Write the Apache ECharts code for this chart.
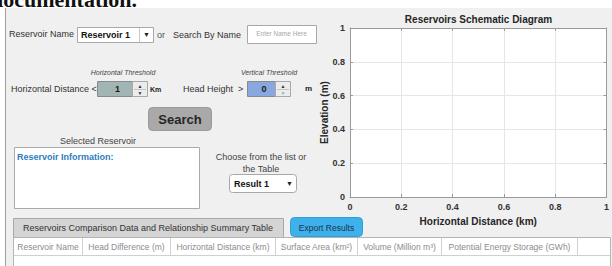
<!DOCTYPE html>
<html>
<head>
<meta charset="utf-8">
<script src="https://cdn.jsdelivr.net/npm/echarts@6/dist/echarts.min.js"></script>
<style>
  html, body { margin: 0; padding: 0; background: #fff; }
  #main { width: 612px; height: 266px; }
</style>
</head>
<body>
<div id="main"></div>
<script>
// axis ranges / ticks of the schematic diagram (empty plot)
const xTicks = [0, 0.2, 0.4, 0.6, 0.8, 1]
const yTicks = [0, 0.2, 0.4, 0.6, 0.8, 1]
const schematicPoints = []

// control values shown in the app
const reservoirNames = ['Reservoir 1']
const resultChoices = ['Result 1']
const horizontalThreshold = [1]
const verticalThreshold = [0]
const tableColumns = [
  'Reservoir Name',
  'Head Difference (m)',
  'Horizontal Distance (km)',
  'Surface Area (km²)',
  'Volume (Million m³)',
  'Potential Energy Storage (GWh)'
]

const FONT = '"Liberation Sans", Arial, sans-serif'
const columnEdges = [13, 82, 170, 275, 357, 441, 577, 610]

function txt(x, y, text, opt = {}) {
  return {
    type: 'text',
    x, y,
    z: 20,
    style: {
      text,
      fill: opt.color || '#333',
      fontSize: opt.size || 9,
      fontWeight: opt.weight || 'normal',
      fontStyle: opt.style || 'normal',
      fontFamily: opt.family || FONT,
      align: opt.align || 'left',
      verticalAlign: 'middle'
    }
  }
}

function box(x, y, w, h, fill, stroke, r) {
  return {
    type: 'rect',
    z: 10,
    shape: { x, y, width: w, height: h, r: r || 0 },
    style: { fill, stroke: stroke || null, lineWidth: stroke ? 1 : 0 }
  }
}

function line(x1, y1, x2, y2, color) {
  return {
    type: 'line',
    z: 15,
    shape: { x1, y1, x2, y2 },
    style: { stroke: color, lineWidth: 1 }
  }
}

function spinner(x, w, value, fill, downColor) {
  const y = 81, h = 15
  return [
    box(x + 0.5, y + 0.5, w, h, fill, '#8a8a8a'),
    txt(x + w / 2 + 0.5, y + 8, String(value), { weight: 'bold', color: '#1a1a1a' }),
    box(x + w + 0.5, y + 0.5, 15, h, '#ececec', '#a8a8a8'),
    line(x + w + 2, y + 8.5, x + w + 14, y + 8.5, '#c4c4c4'),
    txt(x + w + 8, y + 4.5, '▲', { size: 5, align: 'center', color: '#333' }),
    txt(x + w + 8, y + 12, '▼', { size: 5, align: 'center', color: downColor })
  ]
}

const gui = []
// page strip above the app and the app panel edge
gui.push(box(0, 0, 612, 8, '#fff'))
gui.push(box(0, 0, 5, 266, '#fff'))
gui.push(line(5.5, 8, 5.5, 266, '#a0a0a0'))
gui.push(txt(-9, -1, 'documentation.', { size: 22, weight: 'bold', family: '"Liberation Serif", "DejaVu Serif", serif', color: '#111' }))

// row 1: name dropdown + search
gui.push(txt(9, 34, 'Reservoir Name'))
gui.push(box(77.5, 27.5, 76, 15, '#fff', '#a8a8a8'))
gui.push(line(139.5, 28, 139.5, 42, '#c8c8c8'))
gui.push(txt(81, 34.5, reservoirNames[0], { weight: 'bold', color: '#111' }))
gui.push(txt(146.5, 34.5, '▼', { size: 7, align: 'center', color: '#222' }))
gui.push(txt(157, 34.5, 'or', { color: '#555' }))
gui.push(txt(173, 35, 'Search By Name'))
gui.push(box(247.5, 25.5, 69, 18, '#fff', '#a8a8a8'))
gui.push(txt(281.5, 33, 'Enter Name Here', { size: 6.5, align: 'center', color: '#a8a8a8' }))

// row 2: thresholds
gui.push(txt(123, 72, 'Horizontal Threshold', { size: 7, style: 'italic', align: 'center', color: '#444' }))
gui.push(txt(269, 72, 'Vertical Threshold', { size: 7, style: 'italic', align: 'center', color: '#444' }))
gui.push(txt(11, 88.5, 'Horizontal Distance <'))
gui.push(...spinner(97, 35, horizontalThreshold[0], '#a1b5b5', '#333'))
gui.push(txt(150, 89, 'Km', { size: 7, weight: 'bold', color: '#222' }))
gui.push(txt(183, 88.5, 'Head Height  >'))
gui.push(...spinner(247, 28, verticalThreshold[0], '#8aa8e0', '#8aa8d8'))
gui.push(txt(305, 88.5, 'm', { size: 8, weight: 'bold', color: '#222' }))

// search button
gui.push(box(148.5, 107.5, 63, 23, '#a9a9a9', '#9a9a9a', 4))
gui.push(txt(180, 119, 'Search', { size: 13, weight: 'bold', align: 'center', color: '#262626' }))

// selected reservoir
gui.push(txt(98, 141, 'Selected Reservoir', { align: 'center', color: '#444' }))
gui.push(box(14.5, 147.5, 185, 61, '#fff', '#aaaaaa'))
gui.push(txt(17, 157, 'Reservoir Information:', { weight: 'bold', color: '#2f7cc0' }))

// result choice
gui.push(txt(261, 157, 'Choose from the list or', { align: 'center', color: '#444' }))
gui.push(txt(261, 169, 'the Table', { align: 'center', color: '#444' }))
gui.push(box(229.5, 174.5, 67, 18, '#fff', '#a8a8a8', 3))
gui.push(txt(234, 183.5, resultChoices[0], { weight: 'bold', color: '#111' }))
gui.push(txt(289.5, 183.5, '▼', { size: 7, align: 'center', color: '#222' }))

// table tab, export button, table
gui.push(box(13.5, 218.5, 270, 19, '#d4d4d4', '#a8a8a8'))
gui.push(txt(148, 228, 'Reservoirs Comparison Data and Relationship Summary Table', { size: 9, align: 'center', color: '#333' }))
gui.push(box(290.5, 217.5, 72, 19, '#3fb1ea', '#2c9fd8', 4))
gui.push(txt(326.5, 228, 'Export Results', { size: 8.5, align: 'center', color: '#173452' }))
gui.push(box(13.5, 237.5, 597, 40, '#fff', '#b4b4b4'))
gui.push(line(14, 255.5, 610, 255.5, '#d0d0d0'))
for (let i = 1; i < columnEdges.length - 1; i++) {
  gui.push(line(columnEdges[i] + 0.5, 238, columnEdges[i] + 0.5, 255, '#d0d0d0'))
}
tableColumns.forEach((name, i) => {
  gui.push(txt((columnEdges[i] + columnEdges[i + 1]) / 2 + 0.5, 246.5, name, { size: 8.5, align: 'center', color: '#8c8c8c' }))
})

const axisColor = '#9a9a9a'
const labelStyle = { color: '#333', fontWeight: 'bold', fontSize: 9, fontFamily: FONT }
const nameStyle = { color: '#262626', fontWeight: 'bold', fontSize: 10, fontFamily: FONT }

function boxAxis(position, ticks) {
  return {
    type: 'value',
    position,
    min: ticks[0],
    max: ticks[ticks.length - 1],
    interval: ticks[1] - ticks[0],
    axisLine: { show: true, onZero: false, lineStyle: { color: axisColor, width: 1 } },
    axisTick: { show: true, inside: true, length: 3, lineStyle: { color: axisColor } },
    axisLabel: { show: false },
    splitLine: { show: false }
  }
}

const option = {
  backgroundColor: '#f0f0f0',
  animation: false,
  title: {
    text: 'Reservoirs Schematic Diagram',
    left: 478.5,
    top: 14,
    textAlign: 'center',
    padding: 0,
    textStyle: { color: '#262626', fontWeight: 'bold', fontSize: 10, fontFamily: FONT }
  },
  grid: {
    left: 350,
    right: 5,
    top: 28,
    bottom: 69,
    show: true,
    backgroundColor: '#fff',
    borderWidth: 0
  },
  xAxis: [
    {
      type: 'value',
      position: 'bottom',
      min: xTicks[0],
      max: xTicks[xTicks.length - 1],
      interval: xTicks[1] - xTicks[0],
      name: 'Horizontal Distance (km)',
      nameLocation: 'middle',
      nameGap: 19,
      nameTextStyle: nameStyle,
      axisLine: { show: true, onZero: false, lineStyle: { color: axisColor, width: 1 } },
      axisTick: { show: true, inside: true, length: 3, lineStyle: { color: axisColor } },
      axisLabel: { ...labelStyle, margin: 5 },
      splitLine: { show: true, lineStyle: { color: '#e6e6e6', width: 1 } }
    },
    boxAxis('top', xTicks)
  ],
  yAxis: [
    {
      type: 'value',
      position: 'left',
      min: yTicks[0],
      max: yTicks[yTicks.length - 1],
      interval: yTicks[1] - yTicks[0],
      name: 'Elevation (m)',
      nameLocation: 'middle',
      nameGap: 21,
      nameMoveOverlap: false,
      nameTextStyle: nameStyle,
      axisLine: { show: true, onZero: false, lineStyle: { color: axisColor, width: 1 } },
      axisTick: { show: true, inside: true, length: 3, lineStyle: { color: axisColor } },
      axisLabel: { ...labelStyle, margin: 5 },
      splitLine: { show: true, lineStyle: { color: '#e6e6e6', width: 1 } }
    },
    boxAxis('right', yTicks)
  ],
  series: [
    {
      type: 'line',
      xAxisIndex: 0,
      yAxisIndex: 0,
      data: schematicPoints,
      lineStyle: { color: '#0072bd' },
      showSymbol: false
    }
  ],
  graphic: { elements: gui }
}

const chart = echarts.init(document.getElementById('main'), null, { renderer: 'svg' })
chart.setOption(option)
</script>
</body>
</html>
